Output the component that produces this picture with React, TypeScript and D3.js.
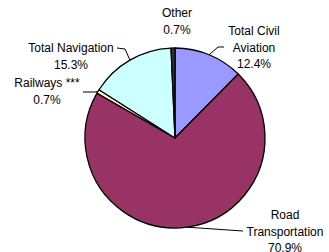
import * as d3 from 'd3'

const categories = ['Total Civil Aviation', 'Road Transportation', 'Railways ***', 'Total Navigation', 'Other']
const shares = [12.4, 70.9, 0.7, 15.3, 0.7]
const labelLines = [
  ['Total Civil', 'Aviation', '12.4%'],
  ['Road', 'Transportation', '70.9%'],
  ['Railways ***', '0.7%'],
  ['Total Navigation', '15.3%'],
  ['Other', '0.7%'],
]

const W = 329
const H = 252
const CX = 175
const CY = 138
const R = 90
const COLORS = ['#9999FF', '#993366', '#FFFFCC', '#CCFFFF', '#333333']

// label anchors (centre x, first baseline) and leader elbows
const LABEL_POS: [number, number][] = [[254, 35], [285, 219], [47, 87], [71, 52], [177, 17]]
const LEADERS: ([number, number][] | null)[] = [
  [[218, 47], [224, 47]],
  [[243, 231]],
  [[95, 92], [83, 92]],
  [[125, 49], [117, 48]],
  null,
]

export default function App() {
  const pie = d3.pie<number>().sort(null).startAngle(0).endAngle(2 * Math.PI)
  const arcs = pie(shares)
  const arc = d3.arc<d3.PieArcDatum<number>>().innerRadius(0).outerRadius(R)
  const line = d3.line()

  return (
    <svg width={W} height={H} style={{ position: 'absolute', left: 0, top: 0, background: '#fff' }}
      fontFamily="Arial, 'Liberation Sans', sans-serif" fontSize={12}>
      <g transform={`translate(${CX},${CY})`}>
        {arcs.map((a, i) => (
          <path key={categories[i]} d={arc(a) ?? ''} fill={COLORS[i]} stroke="#000" strokeWidth={1.3} strokeLinejoin="round" />
        ))}
      </g>
      {arcs.map((a, i) => {
        const pts = LEADERS[i]
        if (!pts) return null
        const mid = (a.startAngle + a.endAngle) / 2
        const start: [number, number] = [CX + R * Math.sin(mid), CY - R * Math.cos(mid)]
        return <path key={'l' + i} d={line([start, ...pts]) ?? ''} fill="none" stroke="#000" strokeWidth={1} />
      })}
      {labelLines.map((lines, i) => (
        <text key={'t' + i} x={LABEL_POS[i][0]} y={LABEL_POS[i][1]} textAnchor="middle" fill="#000">
          {lines.map((s, j) => (
            <tspan key={j} x={LABEL_POS[i][0]} dy={j === 0 ? 0 : 16.7}>{s}</tspan>
          ))}
        </text>
      ))}
    </svg>
  )
}
